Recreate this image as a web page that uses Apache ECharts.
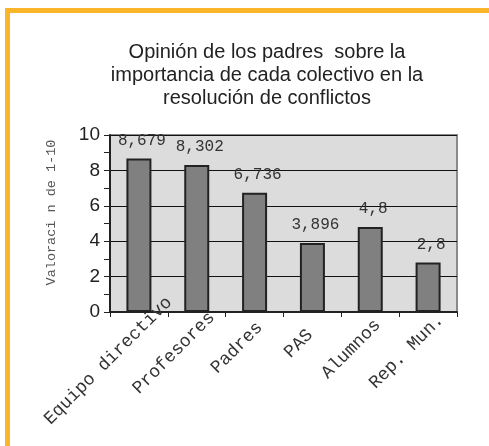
<!DOCTYPE html>
<html>
<head>
<meta charset="utf-8">
<title>Opinión de los padres</title>
<script src="https://cdn.jsdelivr.net/npm/echarts@6/dist/echarts.min.js"></script>
<style>
  html, body { margin: 0; padding: 0; background: #fff; }
  #main { width: 489px; height: 446px; }
</style>
</head>
<body>
<div id="main"></div>
<script>
  // datos
  var categorias = ['Equipo directivo', 'Profesores', 'Padres', 'PAS', 'Alumnos', 'Rep. Mun.'];
  var valores = [8.679, 8.302, 6.736, 3.896, 4.8, 2.8];
  var etiquetas = ['8,679', '8,302', '6,736', '3,896', '4,8', '2,8'];

  var myChart = echarts.init(document.getElementById('main'));
  var mono = '"Liberation Mono", "Courier New", monospace';

  // las etiquetas giradas de Excel no se anclan por el final:
  // se desplaza cada una con un padding segun su largo
  var anchoLetra = 18 * 0.6;
  var catData = categorias.map(function (c) {
    var t = c.length * anchoLetra;
    return {
      value: c,
      textStyle: {
        align: 'center',
        verticalAlign: 'middle',
        padding: [0, Math.round(0.34 * t + 28), 0, 0]
      }
    };
  });

  myChart.setOption({
    animation: false,
    backgroundColor: '#fff',
    title: {
      text: 'Opinión de los padres  sobre la\nimportancia de cada colectivo en la\nresolución de conflictos',
      left: 262,
      top: 36,
      textAlign: 'center',
      textStyle: {
        fontFamily: '"Liberation Sans", Arial, sans-serif',
        fontWeight: 'normal',
        fontSize: 20,
        lineHeight: 23,
        color: '#222'
      }
    },
    graphic: [
      { type: 'rect', shape: { x: 5, y: 8, width: 5, height: 440 }, style: { fill: '#fbb52b' } },
      { type: 'rect', shape: { x: 5, y: 8, width: 490, height: 5 }, style: { fill: '#fbb52b' } }
    ],
    grid: {
      left: 110, top: 135, right: 32, bottom: 134,
      outerBoundsMode: 'none',
      containLabel: false,
      show: true,
      backgroundColor: '#dcdcdc',
      borderColor: '#8a8a8a',
      borderWidth: 2
    },
    xAxis: {
      type: 'category',
      data: catData,
      axisLine: { lineStyle: { color: '#222', width: 2 } },
      axisTick: { show: true, length: 5, lineStyle: { color: '#222' } },
      axisLabel: {
        interval: 0,
        rotate: 45,
        margin: 18,
        align: 'center',
        verticalAlign: 'middle',
        fontFamily: mono,
        fontSize: 18,
        color: '#333'
      }
    },
    yAxis: {
      type: 'value',
      min: 0,
      max: 10,
      interval: 2,
      name: 'Valoraci n de 1-10',
      nameLocation: 'middle',
      nameGap: 52,
      nameTextStyle: { fontFamily: mono, fontSize: 13.5, color: '#555', padding: [0, 0, 0, 22] },
      axisLine: { show: true, lineStyle: { color: '#222', width: 2 } },
      axisTick: { show: true, length: 6, lineStyle: { color: '#222' } },
      minorTick: { show: true, splitNumber: 2, length: 6, lineStyle: { color: '#222' } },
      splitLine: { show: true, lineStyle: { color: '#111', width: 1 } },
      axisLabel: {
        margin: 10,
        fontFamily: '"Liberation Sans", Arial, sans-serif',
        fontSize: 19,
        color: '#222'
      }
    },
    series: [{
      type: 'bar',
      data: valores,
      barWidth: 25,
      itemStyle: { color: '#808080', borderColor: '#222', borderWidth: 2 },
      label: {
        show: true,
        position: 'top',
        distance: 10,
        offset: [3, 0],
        fontFamily: mono,
        fontSize: 16,
        color: '#333',
        formatter: function (p) { return etiquetas[p.dataIndex]; }
      }
    }]
  });
</script>
</body>
</html>
